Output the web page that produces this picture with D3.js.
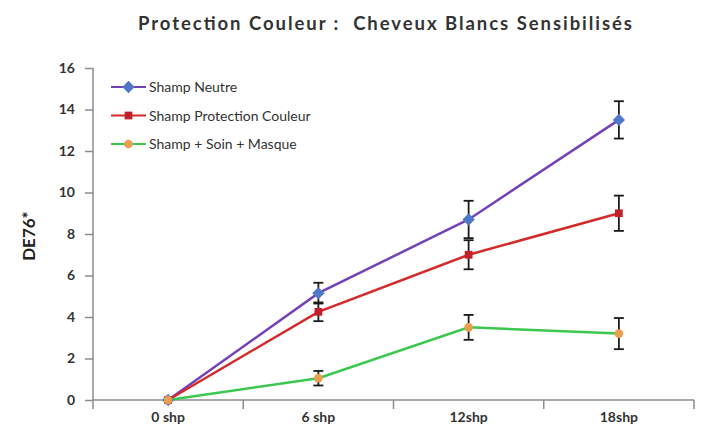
<!DOCTYPE html>
<html><head><meta charset="utf-8">
<script src="https://cdn.jsdelivr.net/npm/d3@7"></script>
<style>body{margin:0;background:#fff}svg{display:block}</style>
</head><body>
<script>
const categories = ["0 shp","6 shp","12shp","18shp"];
const seriesNames = ["Shamp Neutre","Shamp Protection Couleur","Shamp + Soin + Masque"];
const neutre = [0, 5.15, 8.7, 13.5];
const neutreErr = [0, 0.5, 0.9, 0.9];
const protection = [0, 4.25, 7.0, 9.0];
const protectionErr = [0, 0.45, 0.7, 0.85];
const soin = [0, 1.05, 3.5, 3.2];
const soinErr = [0, 0.35, 0.6, 0.75];
const yTicks = [0,2,4,6,8,10,12,14,16];

const W=701,H=440;
const FONT="Lato, 'Open Sans', sans-serif";
const svg=d3.select("body").append("svg").attr("width",W).attr("height",H);
const x=d3.scaleBand().domain(categories).range([93,694]);
const y=d3.scaleLinear().domain([0,16]).range([400,68]);

const diamond={draw(ctx,size){const r=Math.sqrt(size)/1.7;ctx.moveTo(0,-r);ctx.lineTo(r,0);ctx.lineTo(0,r);ctx.lineTo(-r,0);ctx.closePath();}};
const series=[
 {name:seriesNames[0],vals:neutre,err:neutreErr,line:"#7442b8",mark:"#4f79c8",shape:diamond,size:110},
 {name:seriesNames[1],vals:protection,err:protectionErr,line:"#d42a2a",mark:"#c0202a",shape:d3.symbolSquare,size:60},
 {name:seriesNames[2],vals:soin,err:soinErr,line:"#3cc850",mark:"#e8a050",shape:d3.symbolCircle,size:60}
];

const gy=svg.append("g").attr("transform","translate(93,0)")
 .call(d3.axisLeft(y).tickValues(yTicks).tickSize(8).tickPadding(10));
const gx=svg.append("g").attr("transform","translate(0,400)")
 .call(d3.axisBottom(x).tickSize(0).tickPadding(12));
const bounds=categories.map(c=>x(c)).concat([x.range()[1]]);
svg.append("g").selectAll("line").data(bounds).join("line")
 .attr("x1",d=>d).attr("x2",d=>d).attr("y1",400).attr("y2",409)
 .attr("stroke","#8c8c8c").attr("stroke-width",1.5);
[gy,gx].forEach(g=>{
 g.selectAll(".domain").attr("stroke","#8c8c8c").attr("stroke-width",1.5);
 g.selectAll(".tick line").attr("stroke","#8c8c8c").attr("stroke-width",1.5);
 g.selectAll("text").attr("font-family",FONT).attr("font-size",14).attr("font-weight","bold").attr("fill","#333");
});
gy.select(".domain").attr("d","M-0,400V68");
gx.select(".domain").attr("d","M93,0H694");

const cx=c=>x(c)+x.bandwidth()/2;
series.forEach(s=>{
 const line=d3.line().x((d,i)=>cx(categories[i])).y(d=>y(d));
 svg.append("path").datum(s.vals).attr("d",line).attr("fill","none")
  .attr("stroke",s.line).attr("stroke-width",2.5);
});
series.forEach(s=>{
 const g=svg.append("g").attr("stroke","#1a1a1a").attr("stroke-width",1.8);
 s.vals.forEach((v,i)=>{
  const e=s.err[i]; if(!e) return;
  const px=cx(categories[i]);
  g.append("line").attr("x1",px).attr("x2",px).attr("y1",y(v-e)).attr("y2",y(v+e));
  g.append("line").attr("x1",px-5).attr("x2",px+5).attr("y1",y(v-e)).attr("y2",y(v-e));
  g.append("line").attr("x1",px-5).attr("x2",px+5).attr("y1",y(v+e)).attr("y2",y(v+e));
 });
});
series.forEach(s=>{
 svg.append("g").selectAll("path").data(s.vals).join("path")
  .attr("transform",(d,i)=>`translate(${cx(categories[i])},${y(d)})`)
  .attr("d",d3.symbol().type(s.shape).size(s.size)).attr("fill",s.mark);
});

const lg=svg.append("g");
series.forEach((s,i)=>{
 const yy=87+i*28.5;
 lg.append("line").attr("x1",111).attr("x2",146).attr("y1",yy).attr("y2",yy).attr("stroke",s.line).attr("stroke-width",2.2);
 lg.append("path").attr("transform",`translate(128.5,${yy})`).attr("d",d3.symbol().type(s.shape).size(s.size)).attr("fill",s.mark);
 lg.append("text").attr("x",149).attr("y",yy+5).text(s.name)
  .attr("font-family",FONT).attr("font-size",14).attr("fill","#333");
});

svg.append("text").attr("x",138).attr("y",30)
 .attr("font-family",FONT).attr("font-weight","bold").attr("font-size",18.5).attr("fill","#333")
 .attr("textLength",494).attr("lengthAdjust","spacing")
 .style("white-space","pre")
 .text("Protection Couleur :  Cheveux Blancs Sensibilisés");

svg.append("text").attr("transform","translate(35,236) rotate(-90)").attr("text-anchor","middle")
 .attr("font-family",FONT).attr("font-weight","bold").attr("font-size",17).attr("fill","#222")
 .text("DE76*");
</script>
</body></html>
